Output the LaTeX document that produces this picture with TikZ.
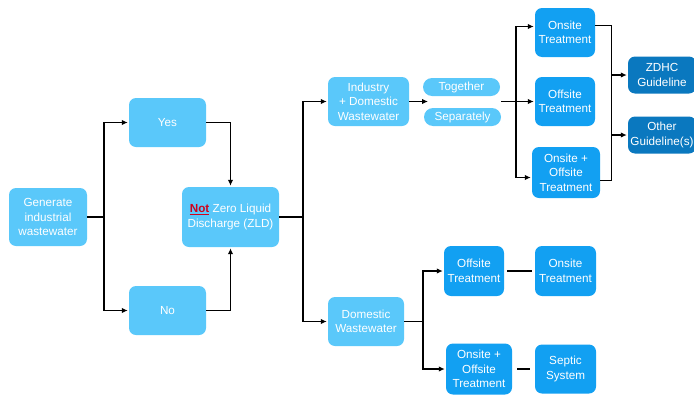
\documentclass[tikz,border=0pt]{standalone}
\usepackage{fontspec}
\setmainfont{Liberation Sans}
\usetikzlibrary{arrows.meta}
\definecolor{lightbox}{HTML}{5AC8FA}
\definecolor{treatbox}{HTML}{12A0F2}
\definecolor{guidebox}{HTML}{0A78BF}
\definecolor{notred}{HTML}{D0021B}
\tikzset{
	box/.style={rectangle, rounded corners=7pt, fill=lightbox, text=white, align=center, inner sep=0pt, font=\fontsize{11.7}{14.5}\selectfont},
	treat/.style={box, fill=treatbox},
	guide/.style={box, fill=guidebox},
	pill/.style={box, rounded corners=9pt, minimum width=77pt, minimum height=18pt},
	size/.style 2 args={minimum width=#1pt, minimum height=#2pt},
	link/.style={line width=1.4pt},
	arr/.style={link, -{Latex[length=6pt,width=5.5pt]}, shorten >=1pt},
}

\begin{document}
\begin{tikzpicture}[x=1pt, y=-1pt]
			%%%%% START %%%%%
			\useasboundingbox (0,0) rectangle (694,394);
			\clip (0,0) rectangle (694,394);
			
			\node[box, size={78}{58}] (gen) at (48,217) {Generate\\industrial\\wastewater};
			\node[box, size={77}{49}] (yes) at (167.5,122.5) {Yes};
			\node[box, size={77}{49}] (no) at (167.5,310.5) {No};
			\node[box, size={97}{60}] (zld) at (230.5,217) {\textcolor{notred}{\underline{\textbf{Not}}} Zero Liquid\\Discharge (ZLD)};
			
			\node[box, size={81}{49}] (ind) at (368.5,101.5) {Industry\\+ Domestic\\Wastewater};
			\node[pill] (together) at (461.5,87) {Together};
			\node[pill] (separately) at (462.5,117) {Separately};
			\node[box, size={76}{49}] (dom) at (366,321.5) {Domestic\\Wastewater};
			
			\node[treat, size={60}{49}] (onsite) at (565,32.5) {Onsite\\Treatment};
			\node[treat, size={60}{49}] (offsite) at (565,101.5) {Offsite\\Treatment};
			\node[treat, size={68}{51}] (onoff) at (566,172.5) {Onsite +\\Offsite\\Treatment};
			
			\node[guide, size={68}{37}] (zdhc) at (662,75) {ZDHC\\Guideline};
			\node[guide, size={68}{37}] (other) at (662,135) {Other\\Guideline(s)};
			
			\node[treat, size={60}{50}] (offtwo) at (474,271) {Offsite\\Treatment};
			\node[treat, size={61}{50}] (ontwo) at (565.5,271) {Onsite\\Treatment};
			\node[treat, size={66}{51}] (onofftwo) at (479,369) {Onsite +\\Offsite\\Treatment};
			\node[treat, size={61}{49}] (septic) at (565.5,369) {Septic\\System};
			
			% zld or not
			\coordinate (j1) at (104,217);
			\draw[link] (gen) -- (j1);
			\draw[arr] (j1) |- (yes);
			\draw[arr] (j1) |- (no);
			\draw[arr] (yes) -| (zld);
			\draw[arr] (no) -| (zld);
			
			% split of the streams
			\coordinate (j2) at (303,217);
			\draw[link] (zld) -- (j2);
			\draw[arr] (j2) |- (ind);
			\draw[arr] (j2) |- (dom);
			
			\coordinate (mixin) at (429,101.5);
			\coordinate (mixout) at (501,101.5);
			\coordinate (j3) at (516,101.5);
			\draw[arr] (ind.east) -- (mixin);
			\draw[link] (mixout) -- (j3);
			\draw[arr] (j3) |- ([yshift=6pt]onsite.west);
			\draw[arr] (j3) -- (offsite);
			\draw[arr] (j3) |- ([yshift=-5pt]onoff.west);
			
			\coordinate (brk) at (611,0);
			\draw[link] ([yshift=7pt]onsite.east) -- ++(16,0) |- ([yshift=-8pt]onoff.east);
			\draw[arr] (brk |- zdhc.west) -- (zdhc.west);
			\draw[arr] (brk |- other.west) -- (other.west);
			
			% domestic only
			\coordinate (j4) at (423,321.5);
			\draw[link] (dom) -- (j4);
			\draw[arr] (j4) |- (offtwo);
			\draw[arr] (j4) |- (onofftwo);
			\draw[link, shorten <=3pt, shorten >=3pt] (offtwo) -- (ontwo);
			\draw[link, shorten <=5pt, shorten >=5pt] (onofftwo) -- (septic);
			
			%%%%% END %%%%%
		\end{tikzpicture}
\end{document}
